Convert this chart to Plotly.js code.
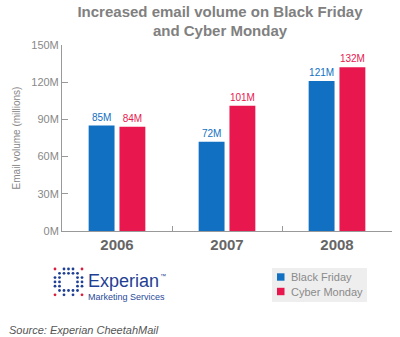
<!DOCTYPE html>
<html>
<head>
<meta charset="utf-8">
<script src="https://cdn.plot.ly/plotly-3.0.1.min.js"></script>
<style>html,body{margin:0;padding:0;background:#fff;}#chart{width:400px;height:337px;}</style>
</head>
<body>
<div id="chart"></div>
<script>
const years = ["2006", "2007", "2008"];
const blackFriday = [85, 72, 121];
const cyberMonday = [84, 101, 132];
const yTicks = [0, 30, 60, 90, 120, 150];
const seriesNames = ["Black Friday", "Cyber Monday"];

const FONT = "Liberation Sans, Arial, sans-serif";
const BLUE = "#1170c2";
const RED = "#e8184f";
const seriesColors = [BLUE, RED];

const traces = [
  {type: "bar", name: seriesNames[0], x: years, y: blackFriday,
   marker: {color: BLUE}, text: blackFriday.map(v => v + "M"),
   textposition: "outside", cliponaxis: false,
   textfont: {family: FONT, size: 10, color: BLUE}},
  {type: "bar", name: seriesNames[1], x: years, y: cyberMonday,
   marker: {color: RED}, text: cyberMonday.map(v => v + "M"),
   textposition: "outside", cliponaxis: false,
   textfont: {family: FONT, size: 10, color: RED}}
];

// pixel -> paper helpers (plot area: x 62..392, y 45..231)
const px = x => (x - 62) / 330;
const py = y => (231 - y) / 186;

// Experian logo dots (decorative)
const logoPattern = [
  "r.bbb.r",
  ".bbbbb.",
  "bb...bb",
  "bb...bb",
  "bb...bb",
  ".bbbbb.",
  "r.b.b.r"
];
const shapes = [];
logoPattern.forEach((row, r) => {
  row.split("").forEach((c, k) => {
    if (c === ".") return;
    const cx = 55 + k * 4.5, cy = 269 + r * 4.3;
    shapes.push({type: "circle", xref: "paper", yref: "paper",
      x0: px(cx - 1.4), x1: px(cx + 1.4), y0: py(cy + 1.4), y1: py(cy - 1.4),
      fillcolor: c === "r" ? "#d81e3c" : "#1f3f94", line: {width: 0}});
  });
});

// custom legend box
shapes.push({type: "rect", xref: "paper", yref: "paper", layer: "below",
  x0: px(272), x1: px(367), y0: py(302), y1: py(268),
  fillcolor: "#eeeeee", line: {width: 0}});
const annotations = [];
seriesNames.forEach((name, i) => {
  const cy = 277 + i * 14.5;
  shapes.push({type: "rect", xref: "paper", yref: "paper",
    x0: px(277), x1: px(284.5), y0: py(cy + 3.7), y1: py(cy - 3.7),
    fillcolor: seriesColors[i], line: {width: 0}});
  annotations.push({xref: "paper", yref: "paper", x: px(289), y: py(cy),
    xanchor: "left", yanchor: "middle", showarrow: false,
    text: name, font: {family: FONT, size: 11, color: "#8a8a8a"}});
});

annotations.push(
  {xref: "paper", yref: "paper", x: px(86), y: py(281),
   xanchor: "left", yanchor: "middle", showarrow: false,
   text: "Experian", font: {family: FONT, size: 18, color: "#1f3f94"}},
  {xref: "paper", yref: "paper", x: px(158), y: py(276),
   xanchor: "left", yanchor: "middle", showarrow: false,
   text: "™", font: {family: FONT, size: 6, color: "#1f3f94"}},
  {xref: "paper", yref: "paper", x: px(86), y: py(297),
   xanchor: "left", yanchor: "middle", showarrow: false,
   text: "Marketing Services", font: {family: FONT, size: 9, color: "#2a4a9a"}},
  {xref: "paper", yref: "paper", x: px(7), y: py(330),
   xanchor: "left", yanchor: "middle", showarrow: false,
   text: "<i>Source: Experian CheetahMail</i>", font: {family: FONT, size: 11, color: "#555"}}
);

const layout = {
  width: 400, height: 337,
  margin: {l: 62, r: 8, t: 45, b: 106},
  paper_bgcolor: "#fff", plot_bgcolor: "#fff",
  font: {family: FONT, color: "#888"},
  title: {text: "<b>Increased email volume on Black Friday<br>and Cyber Monday</b>",
    font: {family: FONT, size: 15, color: "#808080"},
    x: 0.55, xanchor: "center", y: 0.951, yanchor: "top"},
  barmode: "group", bargap: 0.44, bargroupgap: 0.16,
  showlegend: false,
  xaxis: {type: "category", showline: true, linecolor: "#999", linewidth: 1,
    ticks: "inside", tickson: "boundaries", ticklen: 5, tickcolor: "#999",
    tickfont: {family: FONT, size: 15, color: "#666", weight: "bold"},
    showgrid: false, zeroline: false},
  yaxis: {range: [0, 150], tickvals: yTicks, ticktext: yTicks.map(v => v + "M"),
    showline: true, linecolor: "#999", linewidth: 1,
    ticks: "inside", ticklen: 6, tickcolor: "#999",
    tickfont: {family: FONT, size: 11, color: "#888"},
    showgrid: false, zeroline: false,
    title: {text: "Email volume (millions)", font: {family: FONT, size: 10, color: "#888"}, standoff: 8}},
  shapes: shapes,
  annotations: annotations
};

Plotly.newPlot("chart", traces, layout, {displayModeBar: false, staticPlot: true});
</script>
</body>
</html>
